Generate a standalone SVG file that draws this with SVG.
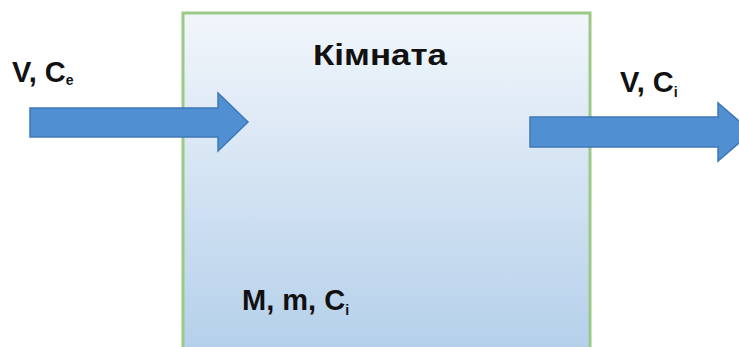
<svg xmlns="http://www.w3.org/2000/svg" width="739" height="347" viewBox="0 0 739 347">
<defs>
<linearGradient id="roomGrad" x1="0" y1="0" x2="0" y2="1">
<stop offset="0" stop-color="#f2f6fb"/>
<stop offset="1" stop-color="#b3cfea"/>
</linearGradient>
<style>
.lbl{font-family:"Liberation Sans",Arial,sans-serif;font-weight:bold;fill:#111;}
.arrow{fill:#4f8fd2;stroke:#3f78b8;stroke-width:1.5;}
</style>
</defs>
<rect width="739" height="347" fill="#ffffff"/>
<g id="room">
<rect x="183" y="13" width="407" height="345" fill="url(#roomGrad)" stroke="#9cc985" stroke-width="3"/>
<text class="lbl" x="313" y="65" font-size="30" textLength="134" lengthAdjust="spacingAndGlyphs">Кімната</text>
<text class="lbl" x="242" y="310" font-size="29">M, m, C<tspan font-size="14" dy="5">i</tspan></text>
</g>
<g id="connectors">
<polygon class="arrow" points="30,108 218,108 218,93 248,122 218,151 218,137 30,137"/>
<polygon class="arrow" points="530,117 718,117 718,103 752,132 718,161 718,147 530,147"/>
</g>
<g id="labels">
<text class="lbl" x="12" y="82" font-size="29">V, C<tspan font-size="14" dy="3">e</tspan></text>
<text class="lbl" x="620" y="92" font-size="29">V, C<tspan font-size="14" dy="5">i</tspan></text>
</g>
</svg>
